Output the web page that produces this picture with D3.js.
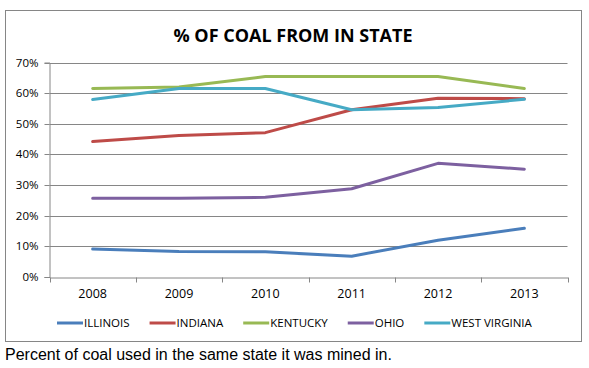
<!DOCTYPE html>
<html>
<head>
<meta charset="utf-8">
<script src="https://cdn.jsdelivr.net/npm/d3@7"></script>
<style>
	body { margin: 0; background: #fff; }
	svg text { fill: #000; }
</style>
</head>
<body>
<div id="chart"></div>
<script>
var years = ['2008', '2009', '2010', '2011', '2012', '2013'];
var states = ['ILLINOIS', 'INDIANA', 'KENTUCKY', 'OHIO', 'WEST VIRGINIA'];
var colors = ['#4A7EBB', '#BE4B48', '#98B954', '#7D60A0', '#46AAC5'];

var illinois = [9.1, 8.3, 8.2, 6.8, 12.0, 15.9];
var indiana = [44.2, 46.2, 47.1, 54.6, 58.3, 58.2];
var kentucky = [61.5, 62.0, 65.4, 65.4, 65.4, 61.5];
var ohio = [25.7, 25.7, 26.0, 28.8, 37.1, 35.2];
var westVirginia = [57.9, 61.5, 61.5, 54.6, 55.3, 58.0];

var yTicks = [0, 10, 20, 30, 40, 50, 60, 70];

var series = [illinois, indiana, kentucky, ohio, westVirginia];

var chart = {
	width: 589, height: 368,
	left: 49.5, right: 567.5, top: 62.5, bottom: 277
};

var svg = d3.select('#chart').append('svg')
	.attr('width', chart.width)
	.attr('height', chart.height);

// chart frame
svg.append('rect')
	.attr('x', 5.5).attr('y', 10.5)
	.attr('width', 576).attr('height', 331)
	.attr('fill', '#fff')
	.attr('stroke', '#868686')
	.attr('stroke-width', 1);

var x = d3.scaleBand().domain(years).range([chart.left, chart.right]);
var y = d3.scaleLinear().domain([0, 70]).range([chart.bottom, chart.top]);

// grid lines
svg.append('g').selectAll('line').data(yTicks.slice(1))
	.enter().append('line')
		.attr('x1', chart.left).attr('x2', chart.right)
		.attr('y1', function(d) { return Math.round(y(d)) + 0.5; })
		.attr('y2', function(d) { return Math.round(y(d)) + 0.5; })
		.attr('stroke', '#868686');

// y axis
var yAxis = svg.append('g')
	.attr('transform', 'translate(' + chart.left + ',0)')
	.call(d3.axisLeft(y).tickValues(yTicks).tickSize(5).tickPadding(6)
		.tickFormat(function(d) { return d + '%'; }));
yAxis.selectAll('.tick').attr('transform', function(d) { return 'translate(0,' + (Math.round(y(d)) + 0.5) + ')'; });

// x axis, ticks between categories
var xAxis = svg.append('g')
	.attr('transform', 'translate(0,' + (Math.round(chart.bottom) + 0.5) + ')')
	.call(d3.axisBottom(x).tickSize(0).tickPadding(12));
xAxis.selectAll('.tick text').attr('dy', '0.71em');
xAxis.selectAll('.sep').data(d3.range(years.length + 1))
	.enter().append('line')
		.attr('class', 'sep')
		.attr('x1', function(i) { return Math.round(chart.left + i * x.step()) + 0.5; })
		.attr('x2', function(i) { return Math.round(chart.left + i * x.step()) + 0.5; })
		.attr('y1', 0).attr('y2', 5)
		.attr('stroke', '#868686');

svg.selectAll('.domain').attr('stroke', '#868686');
yAxis.selectAll('.tick line').attr('stroke', '#868686');
yAxis.selectAll('text').style('font-family', 'Open Sans').style('font-size', '11.5px');
xAxis.selectAll('text').style('font-family', 'Open Sans').style('font-size', '12.5px');

// lines
var line = d3.line()
	.x(function(d, i) { return x(years[i]) + x.bandwidth() / 2; })
	.y(function(d) { return y(d); });

svg.append('g').selectAll('path').data(series)
	.enter().append('path')
		.attr('d', line)
		.attr('fill', 'none')
		.attr('stroke', function(d, i) { return colors[i]; })
		.attr('stroke-width', 3)
		.attr('stroke-linejoin', 'round')
		.attr('stroke-linecap', 'round');

// title
svg.append('text')
	.attr('x', 293).attr('y', 42)
	.attr('text-anchor', 'middle')
	.style('font-family', 'Open Sans')
	.style('font-weight', 'bold')
	.style('font-size', '18px')
	.text('% OF COAL FROM IN STATE');

// legend
var legend = svg.append('g');
var pos = 57;
states.forEach(function(s, i) {
	var item = legend.append('g').attr('transform', 'translate(' + pos + ',323)');
	item.append('line')
		.attr('x1', 0).attr('x2', 26)
		.attr('stroke', colors[i])
		.attr('stroke-width', 3);
	var t = item.append('text')
		.attr('x', 27).attr('dy', '0.36em')
		.style('font-family', 'Open Sans')
		.style('font-size', '11.5px')
		.text(s);
	pos += 27 + t.node().getComputedTextLength() + 20;
});

// caption
svg.append('text')
	.attr('x', 5).attr('y', 360)
	.style('font-family', 'Liberation Sans')
	.style('font-size', '16px')
	.text('Percent of coal used in the same state it was mined in.');
</script>
</body>
</html>
